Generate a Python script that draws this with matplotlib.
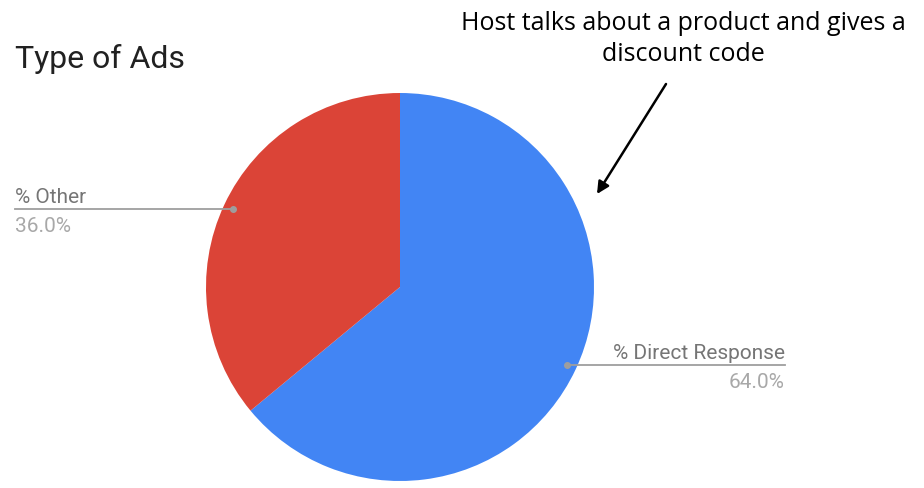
import numpy as np
import matplotlib.pyplot as plt

# ad type split
labels = ['% Direct Response', '% Other']
shares = [64.0, 36.0]
colors = ['#4285F4', '#DB4437']

W, H = 924, 488
fig = plt.figure(figsize=(W / 100, H / 100), dpi=100)


def fx(px):
    return px / W


def fy(py):
    return 1 - py / H


# pie axes: center (400, 287) px, radius 194 px
cx, cy, r = 400, 287, 194
ax = fig.add_axes([fx(cx - r), fy(cy + r), 2 * r / W, 2 * r / H])
wedges, _ = ax.pie(shares, colors=colors, startangle=90, counterclock=False,
                   radius=1, wedgeprops=dict(linewidth=0))
ax.set_xlim(-1, 1)
ax.set_ylim(-1, 1)
ax.set_aspect('equal')
ax.axis('off')

# overlay axes in pixel coordinates for labels and leaders
ov = fig.add_axes([0, 0, 1, 1], facecolor='none')
ov.set_xlim(0, W)
ov.set_ylim(H, 0)
ov.axis('off')

label_font = ['Roboto', 'DejaVu Sans']
line_col = '#9e9e9e'
for w, lab, val in zip(wedges, labels, shares):
    mid = np.deg2rad((w.theta1 + w.theta2) / 2)
    dx = cx + 0.95 * r * np.cos(mid)
    dy = cy - 0.95 * r * np.sin(mid)
    ov.plot(dx, dy, 'o', color=line_col, markersize=4, zorder=5)
    if np.cos(mid) < 0:
        x_end, ha = 15, 'left'
    else:
        x_end, ha = 785, 'right'
    ov.plot([dx, x_end], [dy, dy], color=line_col, linewidth=1.3)
    ov.text(x_end, dy - 6, lab, ha=ha, va='baseline', fontsize=15,
            color='#757575', family=label_font)
    ov.text(x_end, dy + 23, f'{val:.1f}%', ha=ha, va='baseline', fontsize=15,
            color='#a8a8a8', family=label_font)

# title
ov.text(15, 68, 'Type of Ads', ha='left', va='baseline', fontsize=23,
        color='#212121', family=label_font)

# note with arrow
ov.text(683, 39, 'Host talks about a product and gives a\ndiscount code',
        ha='center', va='center', fontsize=18, color='black',
        family=['Open Sans', 'DejaVu Sans'], linespacing=1.3)
ov.annotate('', xy=(597, 194), xytext=(666, 84),
            arrowprops=dict(arrowstyle='-|>', color='black', lw=1.8,
                            mutation_scale=18, shrinkA=0, shrinkB=0))

fig.savefig('out.png', dpi=100)
